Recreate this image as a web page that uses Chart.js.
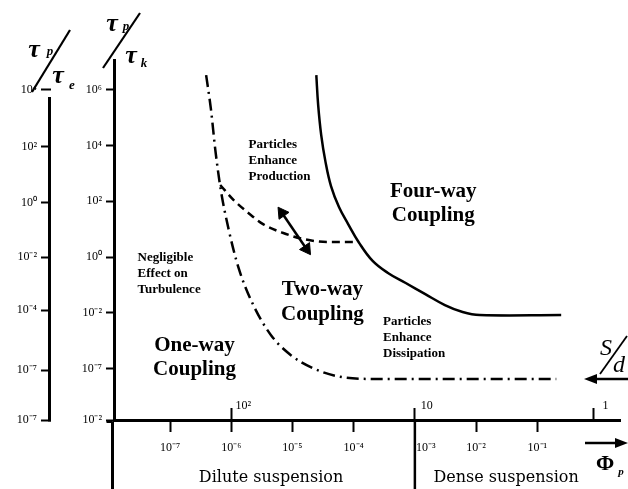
<!DOCTYPE html>
<html><head><meta charset="utf-8">
<script src="https://cdn.jsdelivr.net/npm/chart.js@4.4.1/dist/chart.umd.min.js"></script>
<style>html,body{margin:0;padding:0;background:#fff}#wrap{width:628px;height:489px;position:relative;background:#fff}</style>
</head><body><div id="wrap"><canvas id="c"></canvas></div>
<script>
// x value = log10(Φp); y value = decade position on the τp/τk axis
const oneWayX  = [-6.41,-6.33,-6.26,-6.17,-6.04,-5.88,-5.64,-5.35,-5.03,-4.67,-4.27,-3.63,-0.69];
const oneWayY  = [6.52,5.27,3.84,2.40,0.97,-0.39,-1.72,-2.80,-3.51,-3.98,-4.27,-4.37,-4.37];
const fourWayX = [-4.61,-4.58,-4.53,-4.46,-4.37,-4.24,-4.09,-3.92,-3.69,-3.44,-3.15,-2.83,-2.51,-2.22,-1.94,-0.61];
const fourWayY = [6.52,5.45,4.37,3.41,2.54,1.79,1.18,0.54,-0.14,-0.57,-0.93,-1.33,-1.72,-1.97,-2.08,-2.08];
const prodX    = [-6.18,-5.96,-5.72,-5.48,-5.15,-4.83,-4.43,-3.95];
const prodY    = [2.58,2.04,1.58,1.18,0.86,0.65,0.54,0.54];
const arrowX   = [-5.17,-4.77];
const arrowY   = [1.58,0.29];

const phiTickValues = [-7,-6,-5,-4,-2.82,-2,-1];
const phiTickLabels = ['10⁻⁷','10⁻⁶','10⁻⁵','10⁻⁴','10⁻³','10⁻²','10⁻¹'];
const tauKTickValues = [6,4,2,0,-2,-4,-5.84];
const tauKTickLabels = ['10⁶','10⁴','10²','10⁰','10⁻²','10⁻⁷','10⁻²'];
const tauETickValues = [6,3.95,1.95,0,-1.9,-4.05,-5.84];
const tauETickLabels = ['10⁴','10²','10⁰','10⁻²','10⁻⁴','10⁻⁷','10⁻⁷'];
const sdTickValues = [-6,-3,-0.08];
const sdTickLabels = ['10²','10','1'];
const regimeValues = [-5.35,-1.51];
const regimeLabels = ['Dilute suspension','Dense suspension'];

const xMin = -7.915, xMax = 0.351, yMin = -5.84, yMax = 7.06;
const SERIF = '"Liberation Serif", "Times New Roman", serif';

const pts = (xs, ys) => xs.map((v, i) => ({x: v, y: ys[i]}));

const annotations = [
  {lines:['Particles','Enhance','Production'], x:-5.716, y:4.01, step:16, font:'bold 13px '+SERIF, align:'left'},
  {lines:['Negligible','Effect on','Turbulence'], x:-7.53, y:-0.04, step:16, font:'bold 13px '+SERIF, align:'left'},
  {lines:['Two-way','Coupling'], x:-4.51, y:-1.18, step:25, font:'bold 21px '+SERIF, align:'center'},
  {lines:['One-way','Coupling'], x:-6.60, y:-3.19, step:24, font:'bold 21px '+SERIF, align:'center'},
  {lines:['Four-way','Coupling'], x:-2.70, y:2.33, step:24, font:'bold 21px '+SERIF, align:'center'},
  {lines:['Particles','Enhance','Dissipation'], x:-3.52, y:-2.33, step:16, font:'bold 13px '+SERIF, align:'left'}
];

const decor = {
  id: 'decor',
  afterDraw(chart) {
    const {ctx} = chart;
    const sx = chart.scales.x, sy = chart.scales.y, sy2 = chart.scales.y2;
    const X = v => sx.getPixelForValue(v), Y = v => sy.getPixelForValue(v);
    const H = chart.height, W = chart.width;
    const line = (x1, y1, x2, y2) => { ctx.beginPath(); ctx.moveTo(x1, y1); ctx.lineTo(x2, y2); ctx.stroke(); };
    const tri = (tx, ty, dir, len, half) => {
      ctx.beginPath();
      ctx.moveTo(tx, ty);
      ctx.lineTo(tx - dir * len, ty - half);
      ctx.lineTo(tx - dir * len, ty + half);
      ctx.closePath(); ctx.fill();
    };
    ctx.save();
    ctx.strokeStyle = '#000'; ctx.fillStyle = '#000';
    // axis extensions
    const ax = chart.chartArea.left - 1.5, ay = Y(yMin) + 1.5;
    ctx.lineWidth = 3;
    line(ax, ay, ax, H);
    line(ax - 6, ay, ax, ay);
    ctx.lineWidth = 2.5;
    line(X(-3), ay, X(-3), H);
    // τp/τe axis line
    ctx.lineWidth = 3;
    const lx = sy2.right - 1.5;
    line(lx, Y(5.73), lx, ay);

    // region labels
    ctx.textBaseline = 'middle';
    annotations.forEach(a => {
      ctx.font = a.font; ctx.textAlign = a.align;
      a.lines.forEach((s, i) => ctx.fillText(s, X(a.x), Y(a.y) + i * a.step));
    });

    // axis titles τp/τk and τp/τe
    const tauTitle = (tx, ty, sub1, bx, by, sub2, s1, s2, sl) => {
      ctx.textAlign = 'center';
      ctx.font = 'italic bold 26px ' + SERIF;
      ctx.fillText('τ', tx, ty);
      ctx.font = 'italic bold 13px ' + SERIF;
      ctx.fillText(sub1, s1[0], s1[1]);
      ctx.font = 'italic bold 26px ' + SERIF;
      ctx.fillText('τ', bx, by);
      ctx.font = 'italic bold 13px ' + SERIF;
      ctx.fillText(sub2, s2[0], s2[1]);
      ctx.lineWidth = 2.2;
      line(sl[0], sl[1], sl[2], sl[3]);
    };
    tauTitle(34, 50, 'p', 58, 76, 'e', [50, 52], [72, 86], [32, 92, 70, 30]);
    tauTitle(112, 24, 'p', 131, 56, 'k', [126, 27], [144, 64], [103, 68, 140, 13]);

    // S/d label with arrow
    ctx.textAlign = 'center';
    ctx.font = 'italic 24px ' + SERIF;
    ctx.fillText('S', 606, 349);
    ctx.fillText('d', 619, 366);
    ctx.lineWidth = 1.8;
    line(600, 374, 627, 336);
    ctx.lineWidth = 2.5;
    line(596, 379, W, 379);
    tri(584, 379, -1, 13, 5);

    // Φp label with arrow
    ctx.lineWidth = 2.5;
    line(585, 443, 616, 443);
    tri(628, 443, 1, 13, 5);
    ctx.font = 'bold 22px ' + SERIF;
    ctx.fillText('Φ', 605, 464);
    ctx.font = 'italic bold 11px ' + SERIF;
    ctx.fillText('p', 621, 472);
    ctx.restore();
  }
};

const tickFont = {family: SERIF, size: 12};

new Chart(document.getElementById('c'), {
  type: 'scatter',
  data: {
    datasets: [
      {data: pts(oneWayX, oneWayY), showLine: true, borderColor: '#000', borderWidth: 2.5,
       borderDash: [12, 5, 2, 5], pointRadius: 0, cubicInterpolationMode: 'monotone', xAxisID: 'x', yAxisID: 'y'},
      {data: pts(fourWayX, fourWayY), showLine: true, borderColor: '#000', borderWidth: 2.5,
       pointRadius: 0, tension: 0.4, xAxisID: 'x', yAxisID: 'y'},
      {data: pts(prodX, prodY), showLine: true, borderColor: '#000', borderWidth: 2.5,
       borderDash: [8, 5], pointRadius: 0, cubicInterpolationMode: 'monotone', xAxisID: 'x', yAxisID: 'y'},
      {data: pts(arrowX, arrowY), showLine: true, borderColor: '#000', borderWidth: 2.5,
       pointStyle: 'triangle', pointRadius: 7, pointRotation: [-34.8, 145.2],
       pointBackgroundColor: '#000', pointBorderColor: '#000', pointBorderWidth: 1,
       xAxisID: 'x', yAxisID: 'y'}
    ]
  },
  options: {
    responsive: true, maintainAspectRatio: false, animation: false,
    layout: {padding: {top: 60, left: 0, right: 0, bottom: 0}},
    plugins: {legend: {display: false}, tooltip: {enabled: false}},
    scales: {
      x: {
        type: 'linear', position: 'bottom', min: xMin, max: xMax,
        afterBuildTicks: s => { s.ticks = phiTickValues.map(v => ({value: v})); },
        afterFit: s => { s.height = 69; },
        border: {display: true, color: '#000', width: 3},
        grid: {drawOnChartArea: false, drawTicks: true, tickLength: 12, tickWidth: 2,
               tickColor: c => (c.tick && c.tick.value === -2.82) ? 'rgba(0,0,0,0)' : '#000'},
        ticks: {callback: (v, i) => phiTickLabels[i], color: '#000', font: tickFont,
                padding: 9, maxRotation: 0, autoSkip: false}
      },
      xs: {
        type: 'linear', position: {y: yMin}, min: xMin, max: xMax,
        afterBuildTicks: s => { s.ticks = sdTickValues.map(v => ({value: v})); },
        border: {display: false},
        grid: {drawOnChartArea: false, drawTicks: true, tickLength: -12, tickWidth: 2, tickColor: '#000'},
        ticks: {callback: (v, i) => sdTickLabels[i], color: '#000', font: tickFont,
                padding: -9, labelOffset: 12, maxRotation: 0, autoSkip: false}
      },
      xl: {
        type: 'linear', position: {y: yMin}, min: xMin, max: xMax,
        afterBuildTicks: s => { s.ticks = regimeValues.map(v => ({value: v})); },
        border: {display: false},
        grid: {display: false},
        ticks: {callback: (v, i) => regimeLabels[i], color: '#000',
                font: {family: '"DejaVu Serif", serif', size: 16},
                padding: 40, maxRotation: 0, autoSkip: false}
      },
      y: {
        type: 'linear', position: 'left', weight: 0, min: yMin, max: yMax,
        afterBuildTicks: s => { s.ticks = tauKTickValues.map(v => ({value: v})); },
        afterFit: s => { s.width = 63; },
        border: {display: true, color: '#000', width: 3},
        grid: {drawOnChartArea: false, drawTicks: true, tickLength: 8, tickWidth: 2, tickColor: '#000'},
        ticks: {callback: (v, i) => tauKTickLabels[i], color: '#000', font: tickFont, padding: 4, autoSkip: false}
      },
      y2: {
        type: 'linear', position: 'left', weight: 1, min: yMin, max: yMax,
        afterBuildTicks: s => { s.ticks = tauETickValues.map(v => ({value: v})); },
        afterFit: s => { s.width = 51; },
        border: {display: false},
        grid: {drawOnChartArea: false, drawTicks: true, tickLength: 10, tickWidth: 2, tickColor: '#000'},
        ticks: {callback: (v, i) => tauETickLabels[i], color: '#000', font: tickFont, padding: 4, autoSkip: false}
      }
    }
  },
  plugins: [decor]
});
</script>
</body></html>
